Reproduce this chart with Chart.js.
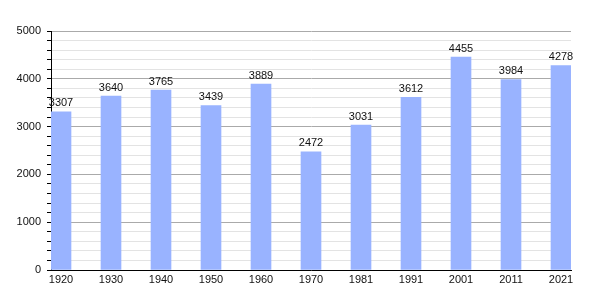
<!DOCTYPE html>
<html>
<head>
<meta charset="utf-8">
<script src="https://cdn.jsdelivr.net/npm/chart.js@4/dist/chart.umd.min.js"></script>
<style>
  html, body { margin: 0; padding: 0; background: #fff; }
  #wrap { width: 600px; height: 300px; }
</style>
</head>
<body>
<div id="wrap"><canvas id="chart" width="600" height="300"></canvas></div>
<script>
const years = ['1920', '1930', '1940', '1950', '1960', '1970', '1981', '1991', '2001', '2011', '2021'];
const population = [3307, 3640, 3765, 3439, 3889, 2472, 3031, 3612, 4455, 3984, 4278];
const yTicks = [0, 1000, 2000, 3000, 4000, 5000];

const barLabels = {
    id: 'barLabels',
    afterDatasetsDraw(chart) {
        const ctx = chart.ctx;
        const meta = chart.getDatasetMeta(0);
        ctx.save();
        ctx.font = '11px "Liberation Sans", Arial, sans-serif';
        ctx.fillStyle = '#111';
        ctx.textAlign = 'center';
        ctx.textBaseline = 'bottom';
        meta.data.forEach((bar, i) => {
            ctx.fillText(String(population[i]), bar.x, bar.y - 3);
        });
        ctx.restore();
    }
};

const ctx = document.getElementById('chart').getContext('2d');
new Chart(ctx, {
    type: 'bar',
    data: {
        datasets: [{
            data: population.map((v, i) => ({ x: i, y: v })),
            backgroundColor: '#99b3ff',
            borderWidth: 0,
            barThickness: 20
        }]
    },
    options: {
        responsive: false,
        animation: false,
        layout: { padding: { top: 31, right: 29, left: 0, bottom: 0 } },
        plugins: {
            legend: { display: false },
            tooltip: { enabled: false }
        },
        scales: {
            x: {
                type: 'linear',
                offset: false,
                min: -0.2,
                max: 10.2,
                afterBuildTicks: scale => { scale.ticks = years.map((_, i) => ({ value: i })); },
                afterFit: scale => { scale.height = 30; },
                grid: { display: false, drawTicks: false, offset: false },
                border: { color: '#000', width: 1 },
                ticks: {
                    padding: 3,
                    autoSkip: false,
                    maxRotation: 0,
                    color: '#111',
                    font: { family: '"Liberation Sans", Arial, sans-serif', size: 11 },
                    callback: v => years[v] ?? ''
                }
            },
            y: {
                min: 0,
                max: 5000,
                afterFit: scale => { scale.width = 51; },
                grid: {
                    color: c => (c.tick && c.tick.value % 1000 === 0) ? '#aaaaaa' : '#e3e3e3',
                    tickColor: '#000',
                    tickLength: 4,
                    drawTicks: true
                },
                border: { color: '#000', width: 1 },
                ticks: {
                    stepSize: 200,
                    autoSkip: false,
                    padding: 6,
                    color: '#111',
                    font: { family: '"Liberation Sans", Arial, sans-serif', size: 11 },
                    callback: v => yTicks.includes(v) ? String(v) : ''
                }
            }
        }
    },
    plugins: [barLabels]
});
</script>
</body>
</html>
